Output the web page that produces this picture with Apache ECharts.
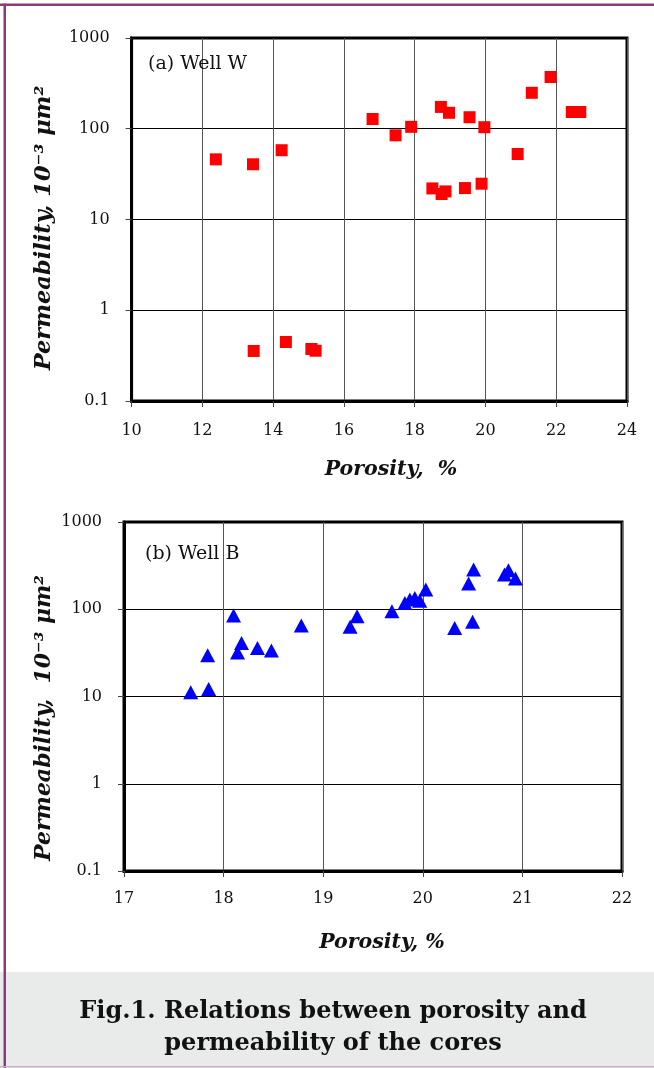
<!DOCTYPE html>
<html>
<head>
<meta charset="utf-8">
<script src="https://cdn.jsdelivr.net/npm/echarts@6/dist/echarts.min.js"></script>
<style>
html,body{margin:0;padding:0;background:#fff;}
#c{width:654px;height:1068px;}
</style>
</head>
<body>
<div id="c"></div>
<script>
// ---- data ----
const wellW_porosity = [12.38,13.43,14.24,16.81,17.46,17.90,18.74,18.97,19.55,19.97,21.31,21.84,22.44,22.68,20.91,18.50,18.76,18.87,19.42,19.89,13.45,14.36,15.08,15.20];
const wellW_perm     = [46,40.6,58,128,84.7,105,174,150,134,104,249,372,153,153,52.7,22,19.1,20.4,22.2,24.8,0.356,0.447,0.374,0.358];

const wellB_porosity = [17.67,17.84,17.85,18.10,18.14,18.18,18.34,18.48,18.78,19.27,19.34,19.69,19.82,19.87,19.92,19.97,20.03,20.32,20.46,20.50,20.51,20.82,20.86,20.93];
const wellB_perm     = [11.2,29.7,12.2,84.7,32,41,36,33.6,65,63,83,95,118,129,135,125,168,61,197,72,285,250,280,225];

const yTickLabels = ['0.1','1','10','100','1000'];
const topXTicks = [10,12,14,16,18,20,22,24];
const botXTicks = [17,18,19,20,21,22];

const SERIF = '"DejaVu Serif", "Liberation Serif", serif';

const chart = echarts.init(document.getElementById('c'), null, {renderer:'canvas'});

function yLabel(v){
  const k = Math.round(Math.log10(v)) + 1;
  return yTickLabels[k] !== undefined ? yTickLabels[k] : '';
}

function xAxisCfg(idx, ticks){
  return {
    type:'value', gridIndex: idx,
    min: ticks[0], max: ticks[ticks.length-1], interval: ticks[1]-ticks[0],
    axisLine:{show:true, lineStyle:{color:'#000', width:3}},
    axisTick:{show:true, length:6, lineStyle:{color:'#444', width:1}},
    axisLabel:{show:true, color:'#111', fontFamily:SERIF, fontSize:16, margin: idx===0?22:20},
    splitLine:{show:true, lineStyle:{color:'#555', width:1}}
  };
}
function yAxisCfg(idx){
  return {
    type:'log', logBase:10, gridIndex: idx, min:0.1, max:1000,
    axisLine:{show:true, lineStyle:{color:'#000', width:3}},
    axisTick:{show:true, length:6, lineStyle:{color:'#444', width:1}},
    axisLabel:{show:true, color:'#111', fontFamily:SERIF, fontSize:16, margin:22, formatter: yLabel},
    splitLine:{show:true, lineStyle:{color:'#000', width:1}},
    minorTick:{show:false}, minorSplitLine:{show:false}
  };
}

const option = {
  animation:false,
  backgroundColor:'#fff',
  grid:[
    {left:131.6, top:38, width:495.4, height:363, show:true, borderColor:'#000', borderWidth:3, backgroundColor:'transparent'},
    {left:124, top:522, width:498, height:349, show:true, borderColor:'#000', borderWidth:3, backgroundColor:'transparent'}
  ],
  xAxis:[xAxisCfg(0, topXTicks), xAxisCfg(1, botXTicks)],
  yAxis:[yAxisCfg(0), yAxisCfg(1)],
  series:[
    {
      name:'Well W', type:'scatter', xAxisIndex:0, yAxisIndex:0,
      symbol:'rect', symbolSize:12,
      itemStyle:{color:'#FF0000', opacity:1},
      data: wellW_porosity.map((x,i)=>[x, wellW_perm[i]])
    },
    {
      name:'Well B', type:'scatter', xAxisIndex:1, yAxisIndex:1,
      symbol:'triangle', symbolSize:[15,14],
      itemStyle:{color:'#0000FF', opacity:1},
      data: wellB_porosity.map((x,i)=>[x, wellB_perm[i]])
    }
  ],
  graphic:[
    // frame
    {type:'rect', shape:{x:0, y:972, width:654, height:94}, style:{fill:'#E9EBEA'}, z:-10},
    {type:'rect', shape:{x:0, y:3.5, width:654, height:2.5}, style:{fill:'#8B3A7C'}},
    {type:'rect', shape:{x:3.5, y:3.5, width:2.5, height:1064.5}, style:{fill:'#8B3A7C'}},
    {type:'rect', shape:{x:0, y:1066, width:654, height:1.5}, style:{fill:'#C9A9C4'}},
    // panel labels
    {type:'text', x:148, y:64, style:{text:'(a) Well W', fill:'#111', font:'19px '+SERIF, align:'left', verticalAlign:'middle'}, z:10},
    {type:'text', x:145, y:554, style:{text:'(b) Well B', fill:'#111', font:'19px '+SERIF, align:'left', verticalAlign:'middle'}, z:10},
    // axis titles
    {type:'text', x:391, y:470, style:{text:'Porosity,  %', fill:'#111', font:'italic bold 20.5px '+SERIF, align:'center', verticalAlign:'middle'}},
    {type:'text', x:382, y:943, style:{text:'Porosity, %', fill:'#111', font:'italic bold 20.5px '+SERIF, align:'center', verticalAlign:'middle'}},
    {type:'text', x:44, y:228, rotation:Math.PI/2, style:{text:'Permeability, 10\u207B\u00B3 \u03BCm\u00B2', fill:'#111', font:'italic bold 22.5px '+SERIF, align:'center', verticalAlign:'middle'}},
    {type:'text', x:44, y:718, rotation:Math.PI/2, style:{text:'Permeability,  10\u207B\u00B3 \u03BCm\u00B2', fill:'#111', font:'italic bold 22px '+SERIF, align:'center', verticalAlign:'middle'}},
    // caption
    {type:'text', x:333, y:1012, style:{text:'Fig.1. Relations between porosity and', fill:'#111', font:'bold 24px '+SERIF, align:'center', verticalAlign:'middle'}},
    {type:'text', x:333, y:1044, style:{text:'permeability of the cores', fill:'#111', font:'bold 24px '+SERIF, align:'center', verticalAlign:'middle'}}
  ]
};
chart.setOption(option);
</script>
</body>
</html>
